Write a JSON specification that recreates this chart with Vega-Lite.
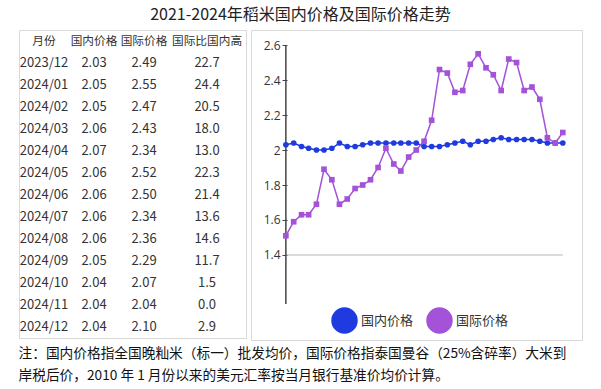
{
  "$schema": "https://vega.github.io/schema/vega-lite/v6.json",
  "padding": {"left": 18, "top": 6, "right": 10, "bottom": 4},
  "config": {
    "view": {"stroke": "#d9d9d9"},
    "font": "Noto Sans CJK SC",
    "text": {"font": "Noto Sans CJK SC"}
  },
  "title": {
    "text": ["注：国内价格指全国晚籼米（标一）批发均价，国际价格指泰国曼谷（25%含碎率）大米到", "岸税后价，2010 年 1 月份以来的美元汇率按当月银行基准价均价计算。"],
    "orient": "bottom",
    "anchor": "start",
    "fontSize": 13.7,
    "fontWeight": "normal",
    "lineHeight": 22,
    "offset": 6,
    "color": "#111",
    "font": "Noto Sans CJK SC"
  },
  "vconcat": [
    {
      "title": {
        "text": "2021-2024年稻米国内价格及国际价格走势",
        "anchor": "middle",
        "fontSize": 16,
        "fontWeight": "normal",
        "offset": 7,
        "color": "#222",
        "font": "Noto Sans CJK SC"
      },
      "spacing": 3,
      "hconcat": [
        {
          "width": 227,
          "height": 308,
          "data": {"values": [
            {"month": "2023/12", "dom": 2.03, "intl": 2.49, "diff": 22.7},
            {"month": "2024/01", "dom": 2.05, "intl": 2.55, "diff": 24.4},
            {"month": "2024/02", "dom": 2.05, "intl": 2.47, "diff": 20.5},
            {"month": "2024/03", "dom": 2.06, "intl": 2.43, "diff": 18.0},
            {"month": "2024/04", "dom": 2.07, "intl": 2.34, "diff": 13.0},
            {"month": "2024/05", "dom": 2.06, "intl": 2.52, "diff": 22.3},
            {"month": "2024/06", "dom": 2.06, "intl": 2.50, "diff": 21.4},
            {"month": "2024/07", "dom": 2.06, "intl": 2.34, "diff": 13.6},
            {"month": "2024/08", "dom": 2.06, "intl": 2.36, "diff": 14.6},
            {"month": "2024/09", "dom": 2.05, "intl": 2.29, "diff": 11.7},
            {"month": "2024/10", "dom": 2.04, "intl": 2.07, "diff": 1.5},
            {"month": "2024/11", "dom": 2.04, "intl": 2.04, "diff": 0.0},
            {"month": "2024/12", "dom": 2.04, "intl": 2.10, "diff": 2.9}
          ]},
          "layer": [
            {
              "data": {"values": [{"col": "月份"}]},
              "mark": {"type": "text", "fontSize": 11.7, "color": "#333"},
              "encoding": {
                "x": {"datum": "月份", "type": "nominal", "axis": null,
                  "scale": {"type": "point", "domain": ["月份", "国内价格", "国际价格", "国际比国内高"], "padding": 0.77, "align": 0.325}},
                "y": {"datum": "hdr", "type": "nominal", "axis": null,
                  "scale": {"type": "point", "domain": ["hdr", "2023/12", "2024/01", "2024/02", "2024/03", "2024/04", "2024/05", "2024/06", "2024/07", "2024/08", "2024/09", "2024/10", "2024/11", "2024/12"], "padding": 0.5}},
                "text": {"field": "col"}
              }
            },
            {
              "data": {"values": [{"col": "国内价格"}]},
              "mark": {"type": "text", "fontSize": 11.7, "color": "#333"},
              "encoding": {
                "x": {"datum": "国内价格", "type": "nominal", "axis": null},
                "y": {"datum": "hdr", "type": "nominal", "axis": null},
                "text": {"field": "col"}
              }
            },
            {
              "data": {"values": [{"col": "国际价格"}]},
              "mark": {"type": "text", "fontSize": 11.7, "color": "#333"},
              "encoding": {
                "x": {"datum": "国际价格", "type": "nominal", "axis": null},
                "y": {"datum": "hdr", "type": "nominal", "axis": null},
                "text": {"field": "col"}
              }
            },
            {
              "data": {"values": [{"col": "国际比国内高"}]},
              "mark": {"type": "text", "fontSize": 11.7, "color": "#333", "dx": 13},
              "encoding": {
                "x": {"datum": "国际比国内高", "type": "nominal", "axis": null},
                "y": {"datum": "hdr", "type": "nominal", "axis": null},
                "text": {"field": "col"}
              }
            },
            {
              "mark": {"type": "text", "fontSize": 13, "color": "#333"},
              "encoding": {
                "x": {"datum": "月份", "type": "nominal", "axis": null},
                "y": {"field": "month", "type": "nominal", "axis": null},
                "text": {"field": "month"}
              }
            },
            {
              "mark": {"type": "text", "fontSize": 13, "color": "#333"},
              "encoding": {
                "x": {"datum": "国内价格", "type": "nominal", "axis": null},
                "y": {"field": "month", "type": "nominal", "axis": null},
                "text": {"field": "dom", "type": "quantitative", "format": ".2f"}
              }
            },
            {
              "mark": {"type": "text", "fontSize": 13, "color": "#333"},
              "encoding": {
                "x": {"datum": "国际价格", "type": "nominal", "axis": null},
                "y": {"field": "month", "type": "nominal", "axis": null},
                "text": {"field": "intl", "type": "quantitative", "format": ".2f"}
              }
            },
            {
              "mark": {"type": "text", "fontSize": 13, "color": "#333", "dx": 13},
              "encoding": {
                "x": {"datum": "国际比国内高", "type": "nominal", "axis": null},
                "y": {"field": "month", "type": "nominal", "axis": null},
                "text": {"field": "diff", "type": "quantitative", "format": ".1f"}
              }
            }
          ]
        },
        {
          "width": 331,
          "height": 310,
          "data": {"values": [
            {"month": "2021-12-01", "series": "国内价格", "price": 2.03},
            {"month": "2022-01-01", "series": "国内价格", "price": 2.04},
            {"month": "2022-02-01", "series": "国内价格", "price": 2.02},
            {"month": "2022-03-01", "series": "国内价格", "price": 2.01},
            {"month": "2022-04-01", "series": "国内价格", "price": 2.00},
            {"month": "2022-05-01", "series": "国内价格", "price": 2.00},
            {"month": "2022-06-01", "series": "国内价格", "price": 2.01},
            {"month": "2022-07-01", "series": "国内价格", "price": 2.04},
            {"month": "2022-08-01", "series": "国内价格", "price": 2.02},
            {"month": "2022-09-01", "series": "国内价格", "price": 2.02},
            {"month": "2022-10-01", "series": "国内价格", "price": 2.03},
            {"month": "2022-11-01", "series": "国内价格", "price": 2.04},
            {"month": "2022-12-01", "series": "国内价格", "price": 2.04},
            {"month": "2023-01-01", "series": "国内价格", "price": 2.04},
            {"month": "2023-02-01", "series": "国内价格", "price": 2.04},
            {"month": "2023-03-01", "series": "国内价格", "price": 2.04},
            {"month": "2023-04-01", "series": "国内价格", "price": 2.04},
            {"month": "2023-05-01", "series": "国内价格", "price": 2.04},
            {"month": "2023-06-01", "series": "国内价格", "price": 2.02},
            {"month": "2023-07-01", "series": "国内价格", "price": 2.02},
            {"month": "2023-08-01", "series": "国内价格", "price": 2.02},
            {"month": "2023-09-01", "series": "国内价格", "price": 2.03},
            {"month": "2023-10-01", "series": "国内价格", "price": 2.04},
            {"month": "2023-11-01", "series": "国内价格", "price": 2.05},
            {"month": "2023-12-01", "series": "国内价格", "price": 2.03},
            {"month": "2024-01-01", "series": "国内价格", "price": 2.05},
            {"month": "2024-02-01", "series": "国内价格", "price": 2.05},
            {"month": "2024-03-01", "series": "国内价格", "price": 2.06},
            {"month": "2024-04-01", "series": "国内价格", "price": 2.07},
            {"month": "2024-05-01", "series": "国内价格", "price": 2.06},
            {"month": "2024-06-01", "series": "国内价格", "price": 2.06},
            {"month": "2024-07-01", "series": "国内价格", "price": 2.06},
            {"month": "2024-08-01", "series": "国内价格", "price": 2.06},
            {"month": "2024-09-01", "series": "国内价格", "price": 2.05},
            {"month": "2024-10-01", "series": "国内价格", "price": 2.04},
            {"month": "2024-11-01", "series": "国内价格", "price": 2.04},
            {"month": "2024-12-01", "series": "国内价格", "price": 2.04},
            {"month": "2021-12-01", "series": "国际价格", "price": 1.51},
            {"month": "2022-01-01", "series": "国际价格", "price": 1.59},
            {"month": "2022-02-01", "series": "国际价格", "price": 1.63},
            {"month": "2022-03-01", "series": "国际价格", "price": 1.63},
            {"month": "2022-04-01", "series": "国际价格", "price": 1.69},
            {"month": "2022-05-01", "series": "国际价格", "price": 1.89},
            {"month": "2022-06-01", "series": "国际价格", "price": 1.83},
            {"month": "2022-07-01", "series": "国际价格", "price": 1.69},
            {"month": "2022-08-01", "series": "国际价格", "price": 1.72},
            {"month": "2022-09-01", "series": "国际价格", "price": 1.78},
            {"month": "2022-10-01", "series": "国际价格", "price": 1.80},
            {"month": "2022-11-01", "series": "国际价格", "price": 1.83},
            {"month": "2022-12-01", "series": "国际价格", "price": 1.90},
            {"month": "2023-01-01", "series": "国际价格", "price": 2.01},
            {"month": "2023-02-01", "series": "国际价格", "price": 1.92},
            {"month": "2023-03-01", "series": "国际价格", "price": 1.88},
            {"month": "2023-04-01", "series": "国际价格", "price": 1.96},
            {"month": "2023-05-01", "series": "国际价格", "price": 2.00},
            {"month": "2023-06-01", "series": "国际价格", "price": 2.05},
            {"month": "2023-07-01", "series": "国际价格", "price": 2.17},
            {"month": "2023-08-01", "series": "国际价格", "price": 2.46},
            {"month": "2023-09-01", "series": "国际价格", "price": 2.44},
            {"month": "2023-10-01", "series": "国际价格", "price": 2.33},
            {"month": "2023-11-01", "series": "国际价格", "price": 2.34},
            {"month": "2023-12-01", "series": "国际价格", "price": 2.49},
            {"month": "2024-01-01", "series": "国际价格", "price": 2.55},
            {"month": "2024-02-01", "series": "国际价格", "price": 2.47},
            {"month": "2024-03-01", "series": "国际价格", "price": 2.43},
            {"month": "2024-04-01", "series": "国际价格", "price": 2.34},
            {"month": "2024-05-01", "series": "国际价格", "price": 2.52},
            {"month": "2024-06-01", "series": "国际价格", "price": 2.50},
            {"month": "2024-07-01", "series": "国际价格", "price": 2.34},
            {"month": "2024-08-01", "series": "国际价格", "price": 2.36},
            {"month": "2024-09-01", "series": "国际价格", "price": 2.29},
            {"month": "2024-10-01", "series": "国际价格", "price": 2.07},
            {"month": "2024-11-01", "series": "国际价格", "price": 2.04},
            {"month": "2024-12-01", "series": "国际价格", "price": 2.10}
          ]},
          "layer": [
            {
              "mark": {"type": "rule", "color": "#b5b5b5", "strokeWidth": 1},
              "encoding": {
                "y": {"datum": 1.4, "type": "quantitative"},
                "x": {"aggregate": "min", "field": "month", "type": "temporal", "axis": null},
                "x2": {"aggregate": "max", "field": "month"}
              }
            },
            {
              "mark": {"type": "rule", "color": "#444", "strokeWidth": 1.5},
              "encoding": {
                "x": {"aggregate": "min", "field": "month", "type": "temporal", "axis": null},
                "y": {"datum": 2.6, "type": "quantitative"},
                "y2": {"datum": 1.12}
              }
            },
            {
              "mark": {"type": "line", "strokeWidth": 1.5},
              "encoding": {
                "x": {"field": "month", "type": "temporal", "axis": null,
                  "scale": {"domain": [1626393600000, 1739577600000]}},
                "y": {"field": "price", "type": "quantitative",
                  "scale": {"domain": [0.914, 2.686], "nice": false, "zero": false},
                  "axis": {"offset": -36, "domain": false, "grid": false, "values": [1.4, 1.6, 1.8, 2, 2.2, 2.4, 2.6], "format": ".1~f", "tickSize": 5, "tickColor": "#444", "labelFontSize": 12, "labelFont": "Open Sans", "labelColor": "#333", "labelPadding": 2, "title": null}},
                "color": {"field": "series", "type": "nominal",
                  "scale": {"domain": ["国内价格", "国际价格"], "range": ["#1f3be0", "#a452d8"]}}
              }
            },
            {
              "transform": [{"filter": "datum.series === '国内价格'"}],
              "mark": {"type": "point", "shape": "circle", "filled": true, "opacity": 1, "size": 32},
              "encoding": {
                "x": {"field": "month", "type": "temporal", "axis": null},
                "y": {"field": "price", "type": "quantitative"},
                "color": {"field": "series", "type": "nominal",
                  "legend": {
                    "orient": "none", "legendX": 312, "legendY": 277, "direction": "horizontal",
                    "title": null, "labelFontSize": 13, "labelColor": "#333", "labelFont": "Noto Sans CJK SC",
                    "symbolSize": 625, "columnPadding": 10, "labelOffset": 3, "symbolStrokeWidth": 1.5,
                    "encode": {"symbols": {
                      "shape": {"value": {"expr": "datum.value === '国内价格' ? 'M-1,0H1M-0.4,0A0.4,0.4 0 1 1 0.4,0A0.4,0.4 0 1 1 -0.4,0Z' : 'M-1,0H1M-0.36,-0.36H0.36V0.36H-0.36Z'"}},
                      "fill": {"value": {"expr": "datum.value === '国内价格' ? '#1f3be0' : '#a452d8'"}},
                      "stroke": {"value": {"expr": "datum.value === '国内价格' ? '#1f3be0' : '#a452d8'"}},
                      "strokeWidth": {"value": 1.5}
                    }}
                  }}
              }
            },
            {
              "transform": [{"filter": "datum.series === '国际价格'"}],
              "mark": {"type": "point", "shape": "square", "filled": true, "opacity": 1, "size": 32},
              "encoding": {
                "x": {"field": "month", "type": "temporal", "axis": null},
                "y": {"field": "price", "type": "quantitative"},
                "color": {"field": "series", "type": "nominal"}
              }
            }
          ]
        }
      ]
    }
  ]
}
